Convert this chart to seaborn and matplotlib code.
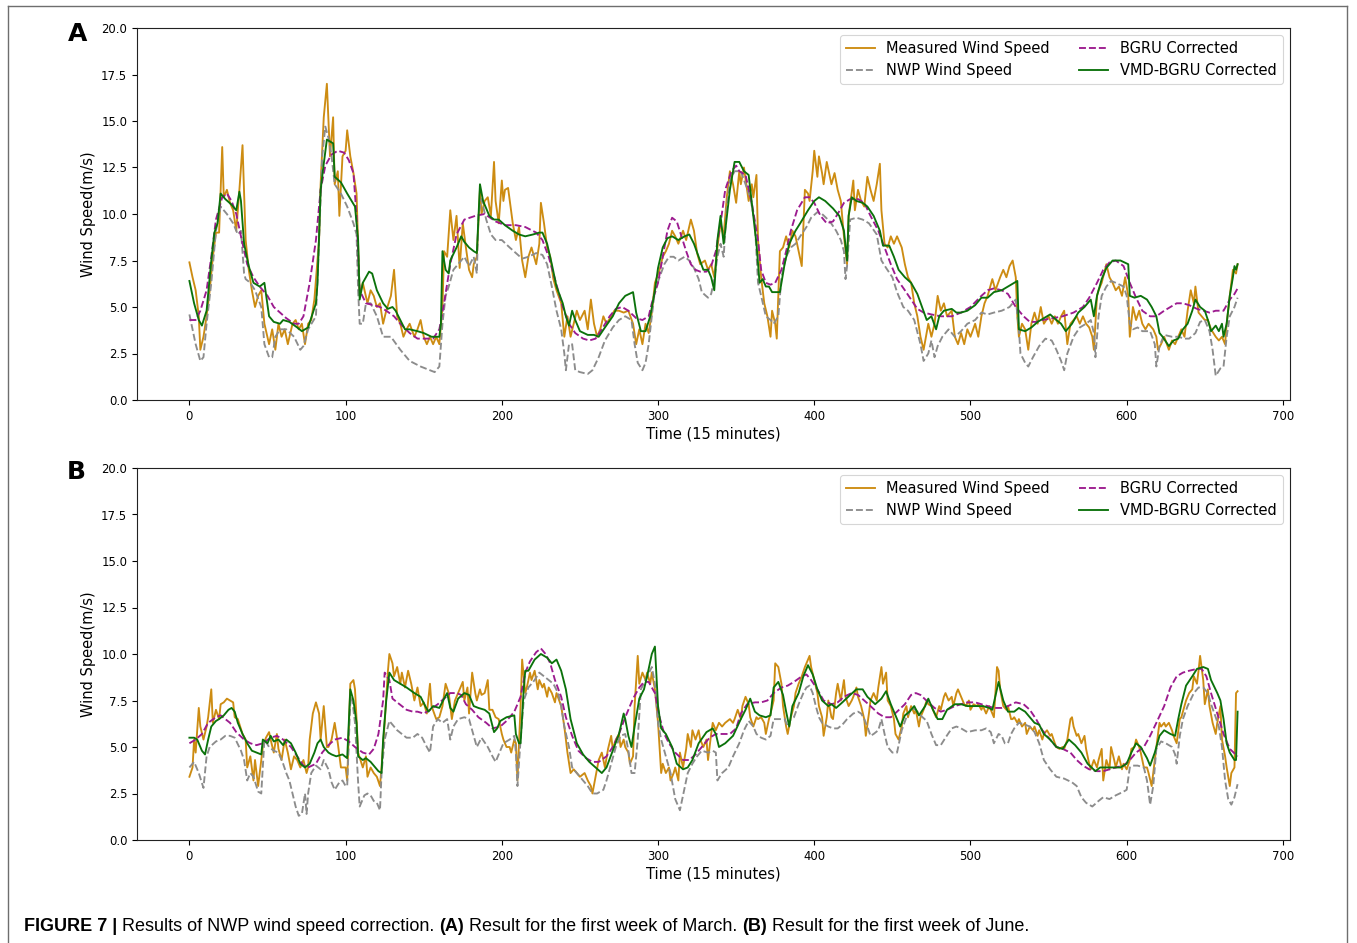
import matplotlib
matplotlib.use("Agg")
import matplotlib.pyplot as plt
import seaborn as sns
import pandas as pd
from matplotlib.lines import Line2D
from matplotlib import font_manager as fm

# ---------------- data (time step, wind speed m/s) ----------------
SERIES_NAMES = ["Measured Wind Speed", "NWP Wind Speed", "BGRU Corrected", "VMD-BGRU Corrected"]
X_TICKS = [0, 100, 200, 300, 400, 500, 600, 700]
Y_TICKS = [0.0, 2.5, 5.0, 7.5, 10.0, 12.5, 15.0, 17.5, 20.0]

A_MEASURED = [(0,7.4),(2,6.6),(4,5.9),(6,4.5),(7,2.7),(9,3.4),(11,4.5),(13,5.9),(15,7.7),(17,9.0),(19,9.0),(21,13.6),(22,10.9),(24,11.3),(26,10.6),(28,10.2),(30,9.1),(32,11.3),(34,13.7),(36,8.6),(38,7.0),(40,5.9),(42,5.0),(44,5.6),(46,5.9),(48,4.1),(51,3.0),(53,3.8),(55,2.7),(57,4.1),(59,3.4),(61,3.8),(63,3.0),(66,4.1),(68,4.3),(70,3.8),(72,4.1),(74,3.0),(76,4.1),(78,4.3),(80,5.4),(83,8.6),(84,11.6),(86,15.2),(88,17.0),(89,15.0),(90,13.1),(92,15.2),(93,11.6),(95,12.3),(96,9.9),(98,13.1),(100,13.4),(101,14.5),(103,13.1),(105,12.2),(107,11.1),(108,8.4),(109,5.6),(111,6.3),(114,5.2),(116,5.9),(118,5.6),(120,5.0),(122,5.2),(124,4.1),(126,4.8),(129,5.6),(131,7.0),(133,4.5),(135,4.1),(137,3.4),(139,3.8),(141,4.1),(144,3.4),(146,3.8),(148,4.3),(150,3.4),(152,3.0),(154,3.4),(156,3.0),(158,3.4),(160,3.0),(162,5.0),(163,8.0),(165,7.7),(167,10.2),(169,8.6),(171,9.9),(173,7.1),(175,9.5),(177,8.2),(179,7.0),(181,6.6),(182,7.3),(184,7.7),(186,11.3),(187,10.0),(189,10.7),(191,10.9),(193,9.9),(195,12.8),(196,10.7),(198,9.5),(200,11.8),(201,10.7),(202,11.3),(204,11.4),(207,9.5),(209,8.6),(211,9.3),(213,7.5),(215,6.6),(217,7.7),(219,8.2),(222,7.3),(224,8.4),(225,10.6),(227,9.5),(229,8.2),(231,7.7),(233,6.5),(235,5.9),(238,5.2),(240,3.4),(242,4.5),(244,3.4),(246,4.1),(248,4.8),(250,4.3),(253,4.8),(255,3.8),(257,5.4),(259,4.1),(261,3.4),(263,3.8),(265,4.5),(267,4.1),(270,4.5),(272,4.8),(275,4.8),(278,4.7),(281,4.8),(284,4.1),(286,3.0),(288,3.8),(290,3.0),(292,4.1),(294,3.6),(296,4.7),(298,6.3),(301,7.0),(303,7.7),(305,8.0),(307,8.4),(309,9.1),(311,8.8),(313,8.4),(316,9.1),(318,8.6),(321,9.7),(323,9.1),(325,7.9),(327,7.3),(330,7.5),(332,7.0),(334,7.3),(336,6.6),(338,8.2),(340,9.5),(342,8.8),(344,10.9),(346,12.3),(348,11.6),(350,10.6),(352,12.3),(353,11.6),(355,12.5),(357,11.3),(358,10.7),(360,11.6),(361,10.9),(363,12.1),(364,8.6),(366,6.6),(368,5.2),(370,4.5),(372,3.4),(373,4.8),(375,4.1),(376,3.3),(378,8.0),(380,8.2),(382,8.8),(384,8.2),(386,9.1),(388,8.8),(390,8.0),(392,7.2),(394,11.3),(396,11.1),(397,10.7),(399,12.3),(400,13.4),(402,12.0),(403,13.1),(405,12.2),(406,11.6),(408,12.8),(411,11.6),(413,12.2),(415,11.3),(417,10.7),(419,8.8),(421,7.3),(422,9.9),(425,11.8),(426,10.2),(428,11.3),(430,10.7),(432,10.4),(434,12.0),(436,11.3),(438,10.7),(440,11.6),(442,12.7),(443,10.2),(445,8.4),(447,8.2),(449,8.8),(451,8.4),(453,8.8),(456,8.2),(458,7.3),(460,6.6),(462,6.3),(464,5.2),(466,4.5),(468,3.4),(470,2.7),(473,4.1),(475,3.4),(477,4.1),(479,5.6),(481,4.8),(483,5.2),(485,4.5),(488,4.8),(490,3.4),(492,3.0),(494,3.6),(496,3.0),(498,3.8),(500,3.4),(503,4.1),(505,3.4),(507,4.5),(509,5.2),(511,5.6),(514,6.5),(516,5.9),(519,6.6),(521,7.0),(523,6.6),(525,7.2),(527,7.5),(529,6.6),(530,4.5),(531,3.4),(533,4.1),(535,3.8),(537,2.7),(539,4.1),(541,4.7),(543,4.1),(545,5.0),(547,4.1),(550,4.5),(552,4.1),(554,4.5),(556,4.1),(558,4.5),(560,4.8),(562,3.0),(564,4.1),(566,4.3),(568,4.5),(570,4.1),(572,4.5),(574,4.1),(576,3.9),(578,3.4),(579,2.7),(581,5.6),(582,5.9),(584,6.3),(587,7.3),(589,6.6),(591,6.3),(593,5.9),(595,6.1),(597,5.6),(599,6.6),(601,5.6),(602,3.4),(604,5.0),(606,4.3),(608,4.8),(610,4.1),(612,3.8),(614,4.1),(617,3.8),(619,3.4),(620,2.7),(622,3.0),(624,3.4),(627,2.7),(629,3.2),(631,3.0),(633,3.4),(635,3.8),(637,3.4),(639,4.8),(641,5.9),(643,5.2),(644,6.1),(646,4.7),(648,4.5),(650,4.3),(652,4.3),(654,3.8),(657,3.4),(659,3.2),(661,3.4),(663,3.0),(664,4.1),(666,5.6),(668,7.0),(670,6.8),(671,7.3)]

A_NWP = [(0,4.6),(4,3.0),(7,2.1),(9,2.3),(11,4.1),(14,6.3),(17,9.1),(20,10.4),(24,10.0),(28,9.5),(31,8.9),(33,9.1),(35,6.8),(36,6.5),(39,6.3),(42,5.9),(46,5.0),(48,3.0),(51,2.3),(53,2.3),(55,3.4),(58,3.8),(62,3.8),(67,3.4),(71,2.7),(73,2.9),(76,3.8),(81,4.5),(83,8.6),(85,13.1),(87,14.7),(89,14.1),(91,13.1),(93,11.6),(97,11.1),(101,10.4),(105,9.5),(107,8.9),(108,5.9),(109,4.1),(111,4.1),(113,5.2),(116,5.2),(120,4.5),(124,3.4),(129,3.4),(135,2.7),(141,2.1),(148,1.8),(154,1.6),(157,1.5),(160,1.8),(162,4.1),(164,5.6),(166,6.1),(169,7.0),(176,7.7),(179,7.2),(182,7.7),(184,6.8),(185,9.9),(187,10.8),(190,9.7),(193,8.9),(196,8.6),(200,8.6),(205,8.2),(209,7.9),(213,7.6),(217,7.7),(222,7.9),(226,7.8),(229,7.3),(232,6.1),(235,4.8),(238,3.8),(240,2.5),(241,1.6),(243,3.0),(245,3.0),(247,1.6),(250,1.5),(255,1.4),(258,1.6),(262,2.3),(266,3.2),(271,3.9),(275,4.3),(279,4.5),(283,4.3),(285,3.0),(287,2.0),(290,1.6),(292,2.0),(294,3.0),(296,4.5),(298,5.9),(301,6.6),(304,7.3),(307,7.7),(310,7.7),(313,7.5),(317,7.7),(320,7.5),(323,7.1),(326,6.5),(328,5.8),(332,5.5),(334,5.7),(336,6.5),(338,7.7),(340,8.4),(342,7.7),(344,10.4),(346,11.8),(349,12.3),(353,12.3),(356,11.6),(359,10.9),(362,9.5),(364,6.3),(366,5.6),(369,4.5),(372,4.3),(374,4.1),(377,4.5),(379,6.6),(382,7.7),(385,8.2),(388,8.4),(391,8.8),(395,9.3),(398,9.8),(402,10.1),(405,10.0),(410,9.6),(414,9.1),(417,8.6),(419,8.0),(420,6.5),(421,7.2),(423,9.7),(427,9.8),(431,9.7),(435,9.5),(440,8.9),(443,7.5),(446,7.1),(450,6.6),(453,5.8),(457,5.0),(460,4.8),(464,4.3),(468,3.0),(470,2.1),(473,2.5),(475,3.2),(477,2.3),(479,2.9),(482,3.4),(486,3.8),(490,3.4),(494,3.7),(498,4.1),(503,4.3),(507,4.7),(511,4.6),(515,4.7),(520,4.8),(525,5.0),(529,5.4),(531,3.8),(532,2.5),(535,2.0),(537,1.8),(540,2.3),(544,2.9),(548,3.3),(552,3.2),(555,2.7),(558,2.1),(560,1.6),(562,2.5),(566,3.4),(570,3.9),(574,4.1),(577,4.3),(579,3.6),(580,2.3),(582,4.5),(584,5.6),(587,6.1),(590,6.4),(593,6.3),(598,6.1),(600,5.6),(602,4.1),(604,3.8),(607,3.9),(610,3.7),(615,3.7),(618,3.0),(619,1.8),(621,2.9),(624,3.5),(629,3.4),(633,3.4),(637,3.3),(640,3.3),(644,3.6),(647,4.2),(650,4.3),(653,3.7),(655,2.7),(657,1.3),(660,1.7),(662,1.8),(664,3.4),(666,4.5),(669,5.0),(671,5.5)]

A_BGRU = [(0,4.3),(4,4.3),(7,4.8),(11,5.9),(14,7.7),(17,9.7),(21,10.9),(24,11.1),(27,10.7),(30,10.0),(33,8.8),(37,7.3),(41,6.6),(45,6.1),(50,5.6),(54,5.0),(58,4.7),(62,4.4),(67,4.1),(70,4.1),(73,4.5),(77,6.3),(81,8.6),(84,11.3),(87,12.6),(91,13.2),(95,13.4),(99,13.3),(102,12.9),(105,12.2),(107,9.9),(109,5.9),(113,5.2),(118,5.1),(122,5.0),(126,4.8),(131,4.5),(135,4.1),(141,3.6),(146,3.3),(152,3.3),(156,3.3),(160,3.8),(163,5.2),(167,7.3),(171,8.9),(176,9.7),(183,9.9),(189,10.0),(196,9.6),(202,9.4),(209,9.4),(215,9.3),(222,9.0),(226,8.6),(230,7.7),(234,6.5),(239,5.0),(243,4.1),(247,3.6),(252,3.3),(256,3.2),(260,3.3),(264,3.8),(269,4.5),(273,4.9),(277,5.0),(281,4.8),(286,4.4),(290,4.3),(294,4.5),(296,5.2),(300,6.3),(303,7.7),(306,9.1),(309,9.8),(312,9.6),(315,8.8),(318,8.0),(321,7.3),(324,7.0),(327,6.9),(331,6.9),(334,7.2),(337,8.0),(340,9.5),(343,11.3),(347,12.3),(350,12.6),(352,12.3),(356,12.1),(360,10.6),(364,8.6),(366,7.0),(369,6.3),(372,6.2),(375,6.3),(379,7.0),(382,8.0),(385,9.1),(389,10.2),(394,10.9),(397,10.9),(400,10.6),(404,9.9),(408,9.5),(412,9.6),(415,10.0),(419,10.6),(423,10.8),(428,10.8),(432,10.6),(436,9.9),(441,9.1),(445,8.2),(449,7.3),(453,6.5),(458,5.9),(462,5.4),(466,4.9),(470,4.7),(475,4.6),(481,4.5),(488,4.5),(494,4.7),(500,5.0),(507,5.6),(511,5.9),(515,6.0),(520,5.9),(524,5.7),(529,5.0),(534,4.5),(538,4.2),(542,4.2),(546,4.3),(553,4.4),(559,4.5),(566,4.7),(572,5.0),(576,5.5),(581,6.3),(585,7.0),(589,7.4),(593,7.5),(598,7.2),(602,6.3),(606,5.5),(610,4.8),(615,4.5),(619,4.5),(624,4.8),(628,5.0),(632,5.2),(636,5.2),(640,5.1),(645,4.9),(649,4.8),(653,4.7),(657,4.8),(662,4.8),(666,5.4),(669,5.7),(671,6.0)]

A_VMD = [(0,6.4),(3,5.2),(6,4.3),(8,4.0),(11,4.8),(14,7.5),(16,9.0),(18,9.5),(20,11.1),(23,10.8),(27,10.5),(30,10.2),(32,11.2),(33,10.7),(35,8.4),(38,7.2),(41,6.3),(45,6.1),(48,6.3),(51,4.5),(54,4.2),(58,4.1),(60,4.3),(64,4.2),(69,3.9),(72,3.7),(76,3.9),(81,5.2),(82,6.3),(84,11.3),(86,12.7),(88,14.0),(92,13.8),(93,12.0),(97,11.7),(101,11.1),(106,10.4),(108,8.6),(109,5.4),(111,6.3),(115,6.9),(117,6.8),(120,5.9),(124,5.2),(127,4.9),(130,5.0),(132,4.8),(135,4.3),(138,3.8),(141,3.8),(146,3.7),(150,3.6),(155,3.4),(160,3.4),(161,4.1),(162,8.0),(164,7.0),(166,6.8),(167,7.5),(171,8.2),(174,8.8),(176,8.5),(179,8.2),(182,8.0),(184,7.9),(186,11.6),(188,10.7),(192,9.9),(195,9.7),(198,9.7),(202,9.4),(207,9.1),(211,8.9),(215,8.8),(220,8.9),(224,9.0),(226,9.0),(229,8.4),(232,7.3),(235,6.1),(239,5.2),(241,4.5),(243,4.0),(245,4.8),(247,4.3),(250,3.7),(255,3.5),(259,3.5),(262,3.4),(266,3.9),(271,4.5),(275,5.2),(279,5.6),(284,5.8),(286,4.7),(289,3.7),(292,3.7),(295,4.5),(298,5.9),(300,7.1),(303,8.2),(306,8.7),(309,8.8),(313,8.6),(317,8.8),(320,8.9),(323,8.4),(326,7.7),(329,7.0),(332,7.0),(334,6.6),(336,5.9),(338,8.6),(340,9.9),(342,8.4),(343,9.1),(346,11.3),(349,12.8),(352,12.8),(355,12.3),(358,12.1),(360,10.6),(363,8.4),(365,6.3),(367,6.5),(369,6.1),(371,6.1),(373,5.8),(378,5.8),(381,7.3),(384,8.4),(388,9.1),(391,9.5),(396,10.2),(400,10.7),(403,10.9),(407,10.7),(412,10.3),(416,9.9),(419,9.1),(421,7.5),(422,9.9),(424,10.9),(427,10.7),(431,10.6),(434,10.4),(438,9.9),(442,9.1),(444,8.3),(448,8.3),(451,7.7),(454,7.0),(458,6.6),(462,6.3),(466,5.7),(469,5.0),(472,4.3),(475,4.5),(478,3.8),(480,4.5),(483,4.8),(488,4.9),(491,4.7),(494,4.7),(498,4.8),(503,5.1),(507,5.5),(511,5.5),(515,5.8),(520,5.9),(524,6.1),(528,6.3),(530,6.4),(531,3.8),(535,3.7),(539,3.9),(543,4.2),(547,4.4),(551,4.6),(555,4.3),(558,4.1),(561,3.7),(565,4.1),(569,4.7),(573,5.0),(577,5.4),(579,4.5),(581,5.6),(584,6.5),(587,7.1),(591,7.5),(596,7.5),(601,7.3),(602,5.6),(605,5.5),(609,5.6),(613,5.4),(616,5.0),(619,4.5),(621,3.6),(623,3.4),(627,2.9),(630,3.2),(633,3.3),(636,3.8),(639,4.1),(642,4.8),(644,5.4),(647,5.0),(650,4.8),(652,4.3),(654,3.7),(657,4.0),(659,3.7),(661,4.1),(662,3.4),(664,4.1),(666,5.6),(668,6.6),(669,7.2),(670,7.0),(671,7.3)]

B_MEASURED = [(0,3.4),(2,3.9),(3,5.4),(4,4.7),(6,7.1),(7,6.1),(9,5.4),(11,6.1),(12,6.6),(14,8.1),(15,6.3),(17,7.0),(19,6.5),(20,7.3),(22,7.4),(24,7.6),(26,7.5),(28,7.4),(29,6.6),(31,6.5),(34,5.7),(36,5.4),(37,3.9),(39,4.5),(41,3.2),(42,4.3),(44,2.9),(45,3.6),(47,5.0),(49,5.5),(51,5.8),(52,5.4),(54,4.7),(56,5.7),(57,4.9),(59,4.3),(61,5.4),(63,4.7),(65,3.8),(67,4.5),(69,4.3),(71,3.9),(73,4.3),(75,3.6),(76,3.9),(77,5.4),(79,6.8),(81,7.4),(83,6.8),(84,5.4),(86,7.2),(88,5.0),(89,5.0),(91,5.4),(93,6.3),(95,5.2),(97,3.9),(98,3.9),(100,3.9),(101,3.2),(103,8.4),(105,8.6),(106,8.1),(107,6.5),(108,4.7),(111,3.9),(113,4.5),(114,3.4),(116,3.9),(118,3.6),(120,3.4),(122,2.9),(123,3.9),(125,6.3),(127,9.0),(128,10.0),(130,9.5),(131,8.8),(133,9.3),(135,8.4),(136,9.0),(138,8.2),(140,9.1),(142,8.4),(144,7.5),(146,8.2),(148,7.2),(150,7.4),(152,6.8),(154,8.4),(155,7.2),(158,6.5),(160,6.6),(162,7.2),(164,8.4),(166,7.9),(168,6.5),(170,7.5),(172,7.9),(175,8.5),(176,7.5),(178,8.2),(179,6.8),(181,9.0),(183,7.9),(184,7.5),(186,8.1),(187,7.8),(189,7.9),(191,8.6),(192,7.0),(194,7.0),(196,6.6),(198,6.5),(200,5.7),(201,5.4),(203,5.0),(205,5.0),(206,4.7),(208,5.4),(209,5.2),(210,3.2),(212,7.2),(213,9.7),(215,7.9),(216,8.2),(218,9.0),(219,8.6),(221,9.1),(223,8.1),(224,8.6),(226,8.2),(227,8.4),(229,7.7),(230,8.2),(232,7.9),(234,7.4),(235,7.9),(238,7.2),(240,6.1),(242,4.7),(244,3.6),(246,3.8),(248,3.6),(250,3.4),(253,3.6),(255,3.2),(257,2.9),(258,2.5),(260,3.4),(262,4.3),(264,4.7),(266,3.9),(268,4.9),(270,5.6),(271,4.9),(273,5.4),(275,5.7),(276,5.0),(278,5.4),(279,5.0),(281,4.7),(282,4.1),(284,4.5),(285,7.2),(287,9.9),(288,8.4),(290,9.0),(292,8.6),(293,9.0),(295,8.4),(296,9.0),(298,8.1),(300,6.3),(302,3.6),(303,4.1),(305,3.6),(307,3.9),(308,3.2),(310,3.6),(311,3.9),(313,3.2),(314,4.7),(316,3.9),(318,4.9),(319,5.7),(321,5.0),(322,5.9),(324,5.4),(326,5.9),(327,5.4),(329,5.0),(331,5.4),(332,4.3),(334,5.7),(335,6.3),(337,5.9),(339,6.3),(341,6.1),(343,6.3),(346,6.5),(348,6.3),(349,6.5),(351,7.0),(353,6.5),(354,7.2),(356,7.7),(358,7.3),(359,6.6),(361,6.1),(363,6.6),(364,6.5),(366,6.6),(368,6.3),(369,5.7),(371,6.5),(372,6.8),(374,7.5),(375,9.5),(377,9.3),(379,8.4),(380,7.2),(382,6.1),(383,5.7),(385,6.6),(387,7.2),(388,7.9),(390,8.4),(392,8.8),(394,9.3),(395,9.5),(397,9.9),(398,9.3),(400,8.6),(402,7.9),(403,7.2),(405,6.6),(406,5.6),(408,6.6),(409,7.5),(411,6.6),(412,6.5),(414,7.9),(415,8.4),(417,7.5),(419,8.6),(420,7.7),(422,7.2),(424,7.5),(425,7.7),(427,8.2),(428,7.7),(430,7.2),(432,6.5),(433,5.6),(435,6.8),(436,7.5),(438,7.9),(440,7.5),(441,8.2),(443,9.3),(444,8.4),(446,9.0),(447,7.5),(449,7.2),(451,6.5),(452,5.7),(454,5.4),(456,6.1),(457,6.8),(459,7.2),(460,6.6),(462,7.2),(464,6.8),(465,7.0),(467,6.1),(468,6.6),(470,7.0),(472,7.5),(473,7.3),(475,7.2),(477,6.8),(478,6.6),(480,7.2),(481,7.0),(483,7.7),(484,7.9),(486,7.5),(488,7.7),(489,7.2),(491,7.9),(492,8.1),(494,7.7),(496,7.3),(497,7.2),(499,7.5),(500,7.0),(502,7.3),(504,7.2),(505,7.3),(507,7.0),(508,7.2),(510,6.8),(512,7.2),(513,7.0),(515,6.6),(517,9.3),(518,9.1),(519,8.1),(521,7.2),(523,7.0),(524,7.2),(526,6.5),(527,6.5),(528,6.6),(530,6.3),(531,6.5),(533,6.1),(535,6.3),(536,5.7),(538,6.1),(540,5.9),(541,6.1),(543,5.6),(544,5.9),(546,5.4),(547,5.7),(549,5.9),(551,5.6),(552,5.7),(554,5.2),(555,5.0),(557,4.9),(559,5.0),(560,4.9),(562,5.4),(564,6.5),(565,6.6),(566,6.1),(568,5.6),(569,5.7),(571,5.2),(573,5.6),(574,4.9),(576,4.1),(577,3.8),(579,4.3),(581,3.9),(582,4.3),(584,4.9),(585,3.2),(587,4.3),(589,3.8),(590,5.0),(592,4.3),(593,3.9),(595,4.5),(597,3.8),(598,4.1),(600,3.8),(602,4.3),(603,4.9),(605,5.0),(606,5.4),(608,5.0),(609,4.7),(611,3.9),(613,3.9),(614,3.6),(616,2.9),(617,3.6),(619,5.0),(621,6.3),(622,6.1),(624,6.3),(625,6.1),(627,6.3),(629,5.9),(630,5.6),(632,5.2),(634,6.5),(635,6.6),(637,7.2),(638,7.5),(640,7.9),(642,8.1),(643,8.8),(645,8.4),(646,9.1),(647,9.9),(649,8.6),(650,7.3),(652,8.1),(653,7.2),(655,6.3),(657,5.7),(658,6.3),(660,7.2),(661,5.4),(663,4.5),(664,3.9),(666,2.9),(667,3.6),(669,3.9),(670,7.9),(671,8.0)]

B_NWP = [(0,3.9),(3,4.2),(6,3.6),(9,2.8),(11,4.5),(13,5.0),(17,5.3),(20,5.4),(23,5.6),(26,5.6),(29,5.5),(33,4.8),(35,4.3),(37,3.2),(39,3.6),(41,3.4),(44,2.6),(46,2.5),(48,5.4),(51,5.0),(54,4.8),(57,4.7),(60,4.1),(62,3.6),(64,3.2),(66,2.5),(68,1.8),(70,1.3),(72,1.4),(74,2.5),(75,1.4),(76,2.5),(78,3.6),(81,4.0),(84,3.8),(86,4.3),(89,3.8),(91,3.1),(93,2.7),(96,3.1),(98,3.2),(100,2.9),(101,2.9),(103,7.5),(104,7.7),(106,6.3),(108,3.1),(109,1.8),(112,2.4),(114,2.5),(116,2.4),(118,2.1),(120,2.0),(122,1.6),(123,3.6),(125,5.4),(128,6.4),(130,6.2),(133,5.9),(136,5.7),(139,5.5),(143,5.5),(146,5.7),(149,5.5),(152,5.0),(154,4.7),(156,6.1),(159,6.5),(162,6.3),(165,6.5),(167,5.4),(169,6.1),(172,6.5),(176,6.6),(179,6.5),(182,5.6),(184,5.0),(187,5.5),(191,5.0),(194,4.5),(196,4.2),(199,4.8),(201,5.2),(205,5.4),(208,5.6),(209,4.7),(210,2.9),(212,5.4),(214,7.5),(217,8.2),(221,8.6),(224,9.0),(227,8.8),(230,8.6),(233,8.4),(236,7.9),(238,7.2),(240,6.1),(243,5.0),(245,3.9),(248,3.6),(252,3.2),(255,2.9),(258,2.5),(261,2.5),(265,2.7),(267,3.2),(270,4.1),(273,5.0),(276,5.6),(279,5.7),(281,4.8),(283,3.6),(285,3.6),(287,5.4),(289,8.1),(292,8.6),(296,9.3),(298,8.4),(300,6.3),(302,5.4),(305,4.5),(308,3.6),(311,2.2),(314,1.6),(316,2.4),(319,3.6),(322,4.1),(325,4.5),(328,4.8),(332,4.7),(335,4.8),(337,4.7),(338,3.2),(341,3.6),(345,3.9),(348,4.5),(352,5.2),(355,5.9),(358,6.4),(361,6.1),(363,5.7),(366,5.5),(369,5.4),(372,5.6),(374,6.5),(378,6.5),(381,6.5),(383,6.1),(385,6.5),(387,6.6),(390,7.3),(393,7.9),(395,8.2),(397,8.3),(399,7.9),(401,7.2),(403,6.6),(405,6.3),(409,6.1),(412,6.0),(415,6.0),(418,6.2),(421,6.5),(425,6.8),(428,6.9),(430,6.8),(432,6.5),(434,6.1),(436,5.6),(438,5.7),(441,5.9),(443,6.5),(445,5.7),(447,5.0),(450,4.7),(453,4.7),(456,5.9),(459,6.6),(462,7.1),(465,7.0),(468,6.7),(472,6.4),(475,5.7),(478,5.1),(481,5.1),(484,5.5),(488,6.0),(491,6.1),(494,6.0),(498,5.8),(503,5.9),(507,5.9),(510,6.0),(513,5.8),(515,5.2),(518,5.7),(520,5.6),(522,5.2),(524,5.2),(526,5.7),(528,6.0),(531,6.3),(535,6.2),(538,6.1),(541,5.8),(544,5.2),(547,4.3),(551,3.8),(555,3.4),(560,3.3),(565,3.1),(568,2.9),(571,2.3),(574,2.0),(578,1.8),(582,2.1),(585,2.3),(589,2.2),(593,2.4),(598,2.6),(600,2.7),(602,3.9),(604,4.0),(607,4.0),(611,3.9),(613,3.2),(615,1.9),(617,2.9),(619,4.9),(622,5.3),(625,5.2),(629,5.0),(631,4.6),(632,4.1),(634,5.6),(636,6.5),(639,7.2),(643,7.9),(646,8.2),(649,8.2),(652,7.9),(654,7.3),(657,6.6),(659,6.1),(661,5.0),(663,3.2),(665,2.2),(667,1.9),(669,2.3),(671,3.0)]

B_BGRU = [(0,5.2),(4,5.4),(8,5.7),(12,6.3),(17,6.6),(20,6.7),(23,6.5),(26,6.3),(30,5.8),(35,5.4),(39,5.2),(43,5.1),(47,5.2),(52,5.5),(56,5.6),(60,5.4),(65,5.0),(69,4.5),(73,4.0),(76,3.9),(81,4.1),(85,4.7),(89,5.1),(93,5.4),(98,5.5),(102,5.3),(106,5.0),(111,4.7),(115,4.6),(118,4.9),(121,5.7),(124,7.5),(125,9.0),(128,8.6),(130,7.6),(133,7.4),(136,7.2),(139,7.0),(143,6.9),(146,6.9),(150,6.8),(154,7.0),(159,7.3),(163,7.6),(167,7.9),(171,7.9),(174,7.8),(177,7.3),(181,7.0),(185,6.6),(190,6.3),(194,6.0),(199,6.1),(203,6.4),(208,6.9),(212,7.7),(215,9.0),(218,9.6),(222,10.1),(225,10.3),(228,10.0),(231,9.5),(234,8.6),(238,7.7),(241,6.6),(245,5.6),(249,4.8),(254,4.4),(258,4.2),(262,4.2),(267,4.5),(271,5.0),(275,5.7),(279,6.6),(284,7.6),(288,8.2),(291,8.5),(294,8.5),(298,7.9),(301,6.6),(304,5.7),(307,5.2),(311,4.7),(316,4.3),(320,4.3),(324,4.6),(328,5.0),(333,5.5),(337,5.7),(341,5.7),(346,5.7),(350,6.0),(353,6.8),(357,7.3),(362,7.4),(366,7.4),(370,7.5),(374,7.9),(379,8.2),(383,8.3),(387,8.5),(392,8.8),(395,8.9),(398,8.6),(402,8.1),(406,7.5),(411,7.3),(415,7.4),(419,7.7),(424,7.9),(428,7.8),(432,7.5),(436,7.2),(441,6.8),(445,6.6),(449,6.6),(453,6.9),(458,7.3),(462,7.8),(465,7.9),(468,7.8),(473,7.4),(477,7.1),(481,6.9),(485,7.0),(490,7.2),(494,7.3),(498,7.4),(503,7.4),(507,7.3),(511,7.2),(515,7.1),(520,7.1),(524,7.2),(529,7.4),(534,7.3),(538,7.0),(542,6.5),(546,5.9),(551,5.4),(555,5.0),(559,4.9),(564,4.7),(568,4.3),(572,4.0),(576,3.8),(581,3.7),(585,3.7),(589,3.8),(593,3.9),(598,4.0),(602,4.3),(606,4.7),(611,5.0),(615,5.6),(619,6.3),(624,7.2),(628,8.2),(632,8.8),(636,9.0),(640,9.1),(645,9.2),(648,9.2),(651,8.8),(654,7.9),(658,6.8),(662,5.7),(666,4.9),(671,4.5)]

B_VMD = [(0,5.5),(3,5.5),(5,5.4),(8,4.8),(10,4.6),(12,5.4),(14,6.1),(17,6.4),(19,6.5),(22,6.7),(25,7.0),(27,7.1),(29,6.9),(31,6.3),(34,5.7),(37,5.2),(40,4.8),(43,4.7),(46,4.6),(47,5.4),(50,5.2),(52,5.6),(54,5.3),(57,5.4),(60,5.1),(62,5.4),(65,5.2),(68,4.7),(71,4.1),(74,3.9),(77,4.1),(80,4.7),(82,5.2),(84,5.4),(86,5.0),(89,4.7),(91,4.6),(94,4.5),(98,4.6),(101,4.4),(103,8.1),(105,7.5),(107,6.3),(108,4.5),(111,4.3),(113,4.4),(116,4.2),(118,4.0),(121,3.7),(123,3.6),(124,5.4),(126,7.5),(128,9.0),(131,8.6),(135,8.4),(139,8.2),(144,7.9),(148,7.7),(151,7.2),(153,6.9),(156,7.2),(160,7.1),(163,7.6),(165,7.9),(167,7.1),(169,6.9),(172,7.6),(176,7.9),(179,7.8),(182,7.2),(185,7.1),(189,7.0),(192,6.8),(195,5.8),(197,6.0),(199,6.4),(203,6.6),(208,6.7),(209,5.7),(211,5.2),(212,5.2),(214,8.1),(215,9.1),(217,9.1),(221,9.7),(225,10.0),(229,9.8),(232,9.5),(235,9.7),(238,9.1),(241,8.1),(244,6.5),(248,5.2),(252,4.6),(256,4.2),(260,3.9),(264,3.6),(267,3.9),(271,4.8),(275,5.7),(278,6.8),(279,6.5),(281,5.6),(283,5.0),(285,6.1),(288,7.6),(291,8.1),(293,8.8),(296,10.0),(298,10.4),(300,7.2),(302,6.0),(305,5.7),(309,5.0),(312,4.1),(316,3.8),(319,3.9),(322,4.3),(326,5.2),(331,5.8),(335,6.0),(337,5.7),(339,5.0),(343,5.2),(348,5.6),(353,6.5),(356,7.0),(359,7.6),(362,6.9),(365,6.7),(369,6.6),(372,6.7),(374,8.2),(377,8.5),(380,7.8),(382,6.9),(384,6.1),(386,7.2),(390,7.9),(393,8.8),(396,9.4),(399,8.9),(402,8.1),(405,7.5),(409,7.2),(411,7.3),(414,7.1),(418,7.4),(423,7.8),(427,8.1),(431,8.1),(434,7.7),(439,7.3),(443,7.6),(446,8.0),(449,7.3),(452,6.7),(455,6.1),(458,6.7),(461,6.9),(464,7.2),(467,6.7),(471,7.2),(473,7.6),(476,7.0),(479,6.5),(482,6.5),(485,7.0),(490,7.3),(494,7.3),(498,7.2),(503,7.2),(508,7.2),(512,7.1),(514,7.0),(518,8.5),(521,7.5),(524,6.9),(528,6.9),(531,7.1),(535,6.9),(538,6.6),(541,6.3),(544,6.2),(547,5.7),(551,5.4),(555,5.0),(559,4.9),(563,5.4),(567,5.1),(571,4.7),(575,4.1),(580,3.7),(583,3.9),(587,3.9),(591,3.9),(596,3.9),(600,4.1),(603,4.7),(606,5.2),(609,5.0),(613,4.4),(615,4.0),(618,4.7),(621,5.6),(624,5.9),(628,5.7),(631,5.6),(633,6.5),(635,7.3),(638,8.3),(642,8.8),(645,9.2),(649,9.3),(652,9.2),(654,8.6),(658,7.9),(660,7.5),(662,6.5),(664,5.2),(666,4.7),(669,4.3),(670,4.3),(671,6.9)]

PANELS = [("A", [A_MEASURED, A_NWP, A_BGRU, A_VMD]),
          ("B", [B_MEASURED, B_NWP, B_BGRU, B_VMD])]

CAPTION = [("FIGURE 7 |", "bold"), ("Results of NWP wind speed correction.", "normal"),
           ("(A)", "bold"), ("Result for the first week of March.", "normal"),
           ("(B)", "bold"), ("Result for the first week of June.", "normal")]

# ---------------- styling ----------------
COLORS = ["#cd8c12", "#8c8c8c", "#9c1b8f", "#0b720b"]
STYLES = ["-", "--", "--", "-"]

W, H = 1357, 943
fig = plt.figure(figsize=(W / 100, H / 100), dpi=100)
plt.rcParams["font.family"] = ["DejaVu Sans"]

def fx(px):
    return px / W

def fy(py):
    return 1 - py / H

ax_boxes = {"A": (137, 28, 1290, 400), "B": (137, 468, 1290, 840)}
letter_pos = {"A": (78, 34), "B": (76, 472)}

axes = {}
for letter, series_list in PANELS:
    l, t, r, b = ax_boxes[letter]
    ax = fig.add_axes([fx(l), fy(b), fx(r) - fx(l), (b - t) / H])
    axes[letter] = ax
    for name, data, col, ls in zip(SERIES_NAMES, series_list, COLORS, STYLES):
        df = pd.DataFrame(data, columns=["time", "speed"])
        sns.lineplot(data=df, x="time", y="speed", ax=ax, color=col, linestyle=ls,
                     linewidth=1.35, label=name, estimator=None, sort=False)
    ax.set_xlim(-33.55, 704.55)
    ax.set_ylim(0, 20)
    ax.set_xticks(X_TICKS)
    ax.set_yticks(Y_TICKS)
    ax.set_xticklabels([str(v) for v in X_TICKS])
    ax.set_yticklabels([f"{v:.1f}" for v in Y_TICKS])
    ax.tick_params(labelsize=8.4, length=3.5, width=0.8)
    ax.set_xlabel("Time (15 minutes)", fontsize=10.5, labelpad=3)
    ax.set_ylabel("Wind Speed(m/s)", fontsize=10.5)
    for sp in ax.spines.values():
        sp.set_linewidth(0.8)
        sp.set_color("#222222")
    leg = ax.legend(loc="upper right", ncol=2, fontsize=10.5, frameon=True,
                    columnspacing=2.0, handlelength=2.0)
    leg.get_frame().set_linewidth(0.8)
    leg.get_frame().set_edgecolor("#cccccc")
    lx, ly = letter_pos[letter]
    fig.text(fx(lx), fy(ly), letter, fontsize=18, fontweight="bold",
             ha="center", va="center")

# outer frame of the figure panel
frame_kw = dict(transform=fig.transFigure, color="#6e6e6e", linewidth=1.0)
fig.add_artist(Line2D([fx(8), fx(8)], [fy(6), -0.05], **frame_kw))
fig.add_artist(Line2D([fx(8), fx(1347)], [fy(6), fy(6)], **frame_kw))
fig.add_artist(Line2D([fx(1347), fx(1347)], [fy(6), -0.05], **frame_kw))

# caption: condensed bold if a narrow face exists
names = {f.name for f in fm.fontManager.ttflist}
if "Liberation Sans Narrow" in names:
    FAM = {"bold": ["Liberation Sans Narrow", "DejaVu Sans"],
           "normal": ["Liberation Sans", "DejaVu Sans"]}
    cap_size = 13.4
else:
    FAM = {"bold": ["Liberation Sans", "DejaVu Sans"],
           "normal": ["Liberation Sans", "DejaVu Sans"]}
    cap_size = 13.0

axB = axes["B"]
prev = fig.text(fx(24), fy(931), CAPTION[0][0], fontsize=cap_size,
                family=FAM[CAPTION[0][1]], fontweight=CAPTION[0][1],
                ha="left", va="baseline")
for text, weight in CAPTION[1:]:
    prev = axB.annotate(text, xy=(1, 0), xycoords=prev, xytext=(3.6, 0),
                        textcoords="offset points", ha="left", va="bottom",
                        fontsize=cap_size, family=FAM[weight], fontweight=weight,
                        annotation_clip=False)

fig.savefig("out.png", dpi=100)
